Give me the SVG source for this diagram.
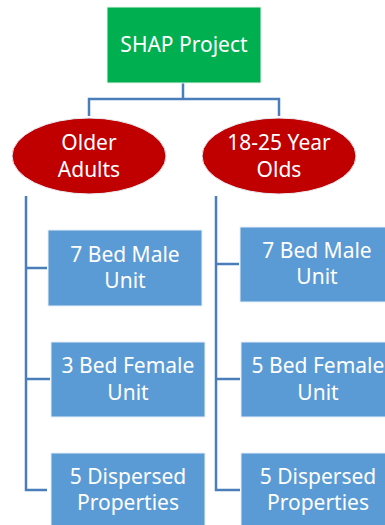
<svg xmlns="http://www.w3.org/2000/svg" width="385" height="525" viewBox="0 0 385 525">
<style>
text{font-family:"Noto Sans","Open Sans","Liberation Sans",sans-serif;font-size:21px;fill:#fff;text-anchor:middle}
.box{fill:#5b9bd5;stroke:#e8eef7;stroke-width:1}
.ell{fill:#c00000;stroke:#e8eef7;stroke-width:1}
.conn{fill:none;stroke:#4a7ebb;stroke-width:2.5}
</style>
<rect width="385" height="525" fill="#fff"/>
<g id="connectors">
<path class="conn" d="M183,83 V99 M89,116 V99 H279 V116"/>
<path class="conn" d="M26,196 V490 H47 M26,268 H47 M26,379 H50"/>
<path class="conn" d="M216,196 V490 H240 M216,264 H239 M216,379 H240"/>
</g>
<g id="root">
<rect x="107" y="7" width="154" height="76" fill="#00b050" stroke="#e8f5ec" stroke-width="1"/>
<text x="184" y="52">SHAP Project</text>
</g>
<g id="older-adults">
<ellipse class="ell" cx="89" cy="156" rx="77" ry="38"/>
<text x="89" y="150">Older</text>
<text x="89" y="177">Adults</text>
</g>
<g id="young-adults">
<ellipse class="ell" cx="279" cy="156" rx="77" ry="38"/>
<text x="279" y="150">18-25 Year</text>
<text x="279" y="177">Olds</text>
</g>
<g id="oa-male">
<rect class="box" x="48" y="230" width="154" height="76"/>
<text x="125" y="262">7 Bed Male</text>
<text x="125" y="288">Unit</text>
</g>
<g id="oa-female">
<rect class="box" x="51" y="342" width="154" height="75"/>
<text x="128" y="373">3 Bed Female</text>
<text x="128" y="400">Unit</text>
</g>
<g id="oa-dispersed">
<rect class="box" x="51" y="453" width="154" height="76"/>
<text x="128" y="484">5 Dispersed</text>
<text x="128" y="510">Properties</text>
</g>
<g id="ya-male">
<rect class="box" x="240" y="227" width="154" height="75"/>
<text x="317" y="258">7 Bed Male</text>
<text x="317" y="284">Unit</text>
</g>
<g id="ya-female">
<rect class="box" x="241" y="342" width="154" height="75"/>
<text x="318" y="373">5 Bed Female</text>
<text x="318" y="400">Unit</text>
</g>
<g id="ya-dispersed">
<rect class="box" x="241" y="453" width="154" height="76"/>
<text x="318" y="484">5 Dispersed</text>
<text x="318" y="510">Properties</text>
</g>
</svg>
